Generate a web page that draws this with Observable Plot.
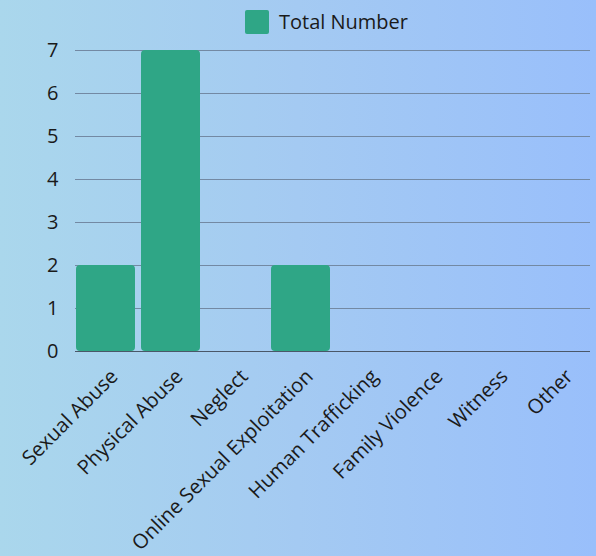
<!DOCTYPE html>
<html>
<head>
<meta charset="utf-8">
<script src="https://cdn.jsdelivr.net/npm/d3@7"></script>
<script src="https://cdn.jsdelivr.net/npm/@observablehq/plot@0.6"></script>
<style>
  html, body { margin: 0; padding: 0; }
  #wrap {
    position: relative; width: 596px; height: 556px; overflow: hidden;
    background: linear-gradient(to right, #aad7ec 0%, #a4caf2 50%, #99bffb 100%);
    font-family: "Open Sans", sans-serif;
  }
  #legend {
    position: absolute; top: 8px; left: 245px; display: flex; align-items: center;
    font-size: 20px; color: #1a1a1a;
  }
  #legend .sw { width: 24px; height: 24px; background: #2fa686; border-radius: 2px; margin-right: 10px; }
  #main { position: absolute; left: 0; top: 0; width: 596px; }
  svg { background: transparent !important; }
</style>
</head>
<body>
<div id="wrap">
  <div id="main"></div>
  <div id="legend"><div class="sw"></div><span id="legendText"></span></div>
</div>
<script>
const categories = ["Sexual Abuse", "Physical Abuse", "Neglect", "Online Sexual Exploitation", "Human Trafficking", "Family Violence", "Witness", "Other"];
const totalNumber = [2, 7, 0, 2, 0, 0, 0, 0];
const yTicks = [0, 1, 2, 3, 4, 5, 6, 7];
const seriesName = "Total Number";

document.getElementById("legendText").textContent = seriesName;

const data = categories.map((c, i) => ({category: c, value: totalNumber[i]}));

const main = Plot.plot({
  width: 596,
  height: 556,
  marginTop: 50,
  marginBottom: 205,
  marginLeft: 75,
  marginRight: 6,
  style: {background: "transparent", fontFamily: "Open Sans, sans-serif", color: "#1a1a1a", overflow: "visible"},
  x: {domain: categories, paddingInner: 0.1, paddingOuter: 0, axis: null},
  y: {domain: [0, 7], ticks: yTicks},
  marks: [
    Plot.gridY(yTicks.filter(t => t > 0), {stroke: "#7389a3", strokeOpacity: 1, strokeWidth: 1}),
    Plot.barY(data, {x: "category", y: "value", fill: "#2fa686", rx: 4}),
    Plot.ruleY([0], {stroke: "#4a5768", strokeWidth: 1.2}),
    Plot.axisY(yTicks, {tickSize: 0, tickPadding: 17, fontSize: 20, label: null, fill: "#1a1a1a"}),
    Plot.text(categories, {x: d => d, frameAnchor: "bottom", rotate: -45, textAnchor: "end", lineAnchor: "top", dx: 3, dy: 16, fontSize: 20.2, fill: "#1a1a1a"})
  ]
});
document.getElementById("main").appendChild(main);
</script>
</body>
</html>
